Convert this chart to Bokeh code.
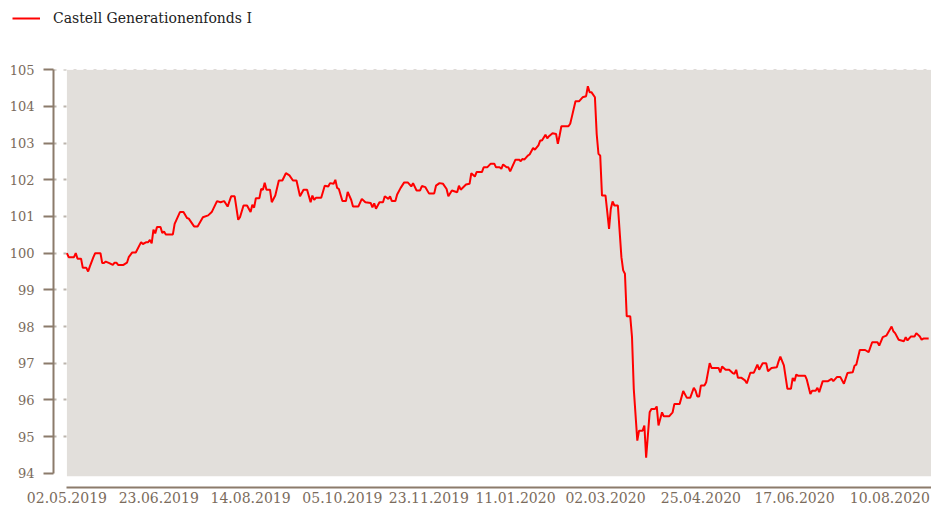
import pandas as pd
from bokeh.plotting import figure
from bokeh.layouts import column
from bokeh.models import (ColumnDataSource, Range1d, FixedTicker, DatetimeTickFormatter,
                          BoxAnnotation, Legend, LegendItem)
from bokeh.embed import file_html
from bokeh.resources import INLINE

series_name = "Castell Generationenfonds I"

dates = [
    "2019-05-02", "2019-05-03", "2019-05-06", "2019-05-07", "2019-05-08", "2019-05-10", "2019-05-11",
    "2019-05-13", "2019-05-14", "2019-05-15", "2019-05-17", "2019-05-18", "2019-05-21", "2019-05-22",
    "2019-05-23", "2019-05-24", "2019-05-26", "2019-05-28", "2019-05-29", "2019-05-30", "2019-05-31",
    "2019-06-03", "2019-06-05", "2019-06-06", "2019-06-08", "2019-06-10", "2019-06-13", "2019-06-14",
    "2019-06-16", "2019-06-17", "2019-06-18", "2019-06-19", "2019-06-20", "2019-06-21", "2019-06-22",
    "2019-06-24", "2019-06-25", "2019-06-26", "2019-06-27", "2019-07-01", "2019-07-02", "2019-07-05",
    "2019-07-07", "2019-07-09", "2019-07-10", "2019-07-13", "2019-07-15", "2019-07-18", "2019-07-21",
    "2019-07-23", "2019-07-26", "2019-07-28", "2019-07-30", "2019-08-01", "2019-08-03", "2019-08-05",
    "2019-08-07", "2019-08-08", "2019-08-10", "2019-08-12", "2019-08-14", "2019-08-15", "2019-08-16",
    "2019-08-17", "2019-08-19", "2019-08-20", "2019-08-21", "2019-08-22", "2019-08-23", "2019-08-25",
    "2019-08-26", "2019-08-28", "2019-08-30", "2019-09-01", "2019-09-03", "2019-09-05", "2019-09-07",
    "2019-09-09", "2019-09-11", "2019-09-13", "2019-09-15", "2019-09-17", "2019-09-18", "2019-09-19",
    "2019-09-20", "2019-09-23", "2019-09-25", "2019-09-27", "2019-09-28", "2019-09-30", "2019-10-01",
    "2019-10-02", "2019-10-03", "2019-10-05", "2019-10-07", "2019-10-08", "2019-10-10", "2019-10-11",
    "2019-10-14", "2019-10-16", "2019-10-18", "2019-10-21", "2019-10-22", "2019-10-23", "2019-10-24",
    "2019-10-26", "2019-10-28", "2019-10-29", "2019-10-31", "2019-11-01", "2019-11-02", "2019-11-04",
    "2019-11-05", "2019-11-07", "2019-11-09", "2019-11-11", "2019-11-13", "2019-11-14", "2019-11-16",
    "2019-11-18", "2019-11-19", "2019-11-21", "2019-11-23", "2019-11-26", "2019-11-27", "2019-11-29",
    "2019-12-01", "2019-12-03", "2019-12-04", "2019-12-06", "2019-12-09", "2019-12-10", "2019-12-11",
    "2019-12-14", "2019-12-16", "2019-12-17", "2019-12-19", "2019-12-20", "2019-12-23", "2019-12-24",
    "2019-12-26", "2019-12-28", "2019-12-30", "2019-12-31", "2020-01-02", "2020-01-03", "2020-01-04",
    "2020-01-06", "2020-01-07", "2020-01-08", "2020-01-11", "2020-01-13", "2020-01-14", "2020-01-15",
    "2020-01-16", "2020-01-18", "2020-01-19", "2020-01-21", "2020-01-22", "2020-01-24", "2020-01-25",
    "2020-01-26", "2020-01-28", "2020-01-29", "2020-01-30", "2020-02-01", "2020-02-03", "2020-02-04",
    "2020-02-05", "2020-02-06", "2020-02-10", "2020-02-11", "2020-02-12", "2020-02-13", "2020-02-14",
    "2020-02-16", "2020-02-18", "2020-02-20", "2020-02-21", "2020-02-22", "2020-02-23", "2020-02-25",
    "2020-02-26", "2020-02-27", "2020-02-28", "2020-02-29", "2020-03-02", "2020-03-03", "2020-03-04",
    "2020-03-05", "2020-03-06", "2020-03-07", "2020-03-09", "2020-03-11", "2020-03-12", "2020-03-13",
    "2020-03-14", "2020-03-16", "2020-03-17", "2020-03-18", "2020-03-20", "2020-03-21", "2020-03-23",
    "2020-03-24", "2020-03-25", "2020-03-27", "2020-03-28", "2020-03-30", "2020-03-31", "2020-04-01",
    "2020-04-03", "2020-04-04", "2020-04-07", "2020-04-09", "2020-04-10", "2020-04-13", "2020-04-15",
    "2020-04-17", "2020-04-19", "2020-04-21", "2020-04-22", "2020-04-23", "2020-04-24", "2020-04-25",
    "2020-04-27", "2020-04-28", "2020-04-30", "2020-05-01", "2020-05-05", "2020-05-06", "2020-05-07",
    "2020-05-09", "2020-05-11", "2020-05-13", "2020-05-14", "2020-05-15", "2020-05-16", "2020-05-18",
    "2020-05-20", "2020-05-21", "2020-05-23", "2020-05-25", "2020-05-27", "2020-05-28", "2020-05-30",
    "2020-06-01", "2020-06-02", "2020-06-04", "2020-06-07", "2020-06-08", "2020-06-09", "2020-06-11",
    "2020-06-13", "2020-06-15", "2020-06-16", "2020-06-17", "2020-06-18", "2020-06-19", "2020-06-23",
    "2020-06-24", "2020-06-26", "2020-06-27", "2020-06-29", "2020-06-30", "2020-07-01", "2020-07-03",
    "2020-07-06", "2020-07-08", "2020-07-09", "2020-07-11", "2020-07-13", "2020-07-15", "2020-07-17",
    "2020-07-20", "2020-07-21", "2020-07-22", "2020-07-24", "2020-07-27", "2020-07-29", "2020-07-31",
    "2020-08-03", "2020-08-04", "2020-08-06", "2020-08-08", "2020-08-11", "2020-08-12", "2020-08-13",
    "2020-08-15", "2020-08-18", "2020-08-19", "2020-08-20", "2020-08-22", "2020-08-24", "2020-08-25",
    "2020-08-27", "2020-08-28", "2020-08-29", "2020-09-01",
]

values = [
    100.00, 99.89, 99.89, 100.00, 99.85, 99.85, 99.60,
    99.60, 99.50, 99.64, 99.89, 100.00, 100.00, 99.73,
    99.73, 99.77, 99.73, 99.68, 99.74, 99.74, 99.68,
    99.68, 99.74, 99.89, 100.02, 100.02, 100.30, 100.25,
    100.30, 100.30, 100.36, 100.27, 100.64, 100.54, 100.71,
    100.71, 100.55, 100.59, 100.51, 100.51, 100.80, 101.12,
    101.12, 100.96, 100.94, 100.73, 100.73, 100.98, 101.03,
    101.12, 101.42, 101.39, 101.42, 101.27, 101.55, 101.55,
    100.91, 100.98, 101.30, 101.30, 101.12, 101.32, 101.24,
    101.50, 101.50, 101.75, 101.73, 101.92, 101.73, 101.73,
    101.39, 101.57, 101.98, 101.98, 102.18, 102.12, 101.98,
    101.98, 101.55, 101.73, 101.73, 101.39, 101.57, 101.45,
    101.51, 101.51, 101.84, 101.82, 101.91, 101.89, 102.00,
    101.78, 101.75, 101.42, 101.42, 101.67, 101.45, 101.27,
    101.27, 101.48, 101.39, 101.37, 101.25, 101.36, 101.21,
    101.39, 101.39, 101.55, 101.48, 101.55, 101.42, 101.42,
    101.60, 101.78, 101.93, 101.93, 101.82, 101.91, 101.71,
    101.71, 101.83, 101.80, 101.63, 101.63, 101.84, 101.91,
    101.89, 101.75, 101.55, 101.71, 101.66, 101.84, 101.73,
    101.87, 101.89, 102.18, 102.09, 102.21, 102.21, 102.34,
    102.34, 102.44, 102.44, 102.34, 102.34, 102.30, 102.42,
    102.34, 102.34, 102.23, 102.55, 102.55, 102.51, 102.57,
    102.55, 102.66, 102.69, 102.87, 102.82, 102.94, 103.07,
    103.07, 103.23, 103.13, 103.19, 103.27, 103.25, 102.98,
    103.21, 103.46, 103.46, 103.53, 103.73, 103.94, 104.14,
    104.14, 104.25, 104.28, 104.55, 104.39, 104.39, 104.25,
    103.25, 102.71, 102.66, 101.57, 101.57, 101.12, 100.66,
    101.21, 101.41, 101.30, 101.30, 99.89, 99.53, 99.44,
    98.28, 98.28, 97.71, 96.30, 94.89, 95.16, 95.16,
    95.30, 94.42, 95.66, 95.75, 95.75, 95.82, 95.30,
    95.66, 95.55, 95.55, 95.66, 95.89, 95.89, 96.24,
    96.06, 96.06, 96.33, 96.25, 96.09, 96.09, 96.39,
    96.39, 96.48, 97.00, 96.87, 96.87, 96.75, 96.91,
    96.82, 96.82, 96.73, 96.71, 96.82, 96.60, 96.60,
    96.53, 96.45, 96.74, 96.74, 96.96, 96.82, 97.00,
    97.00, 96.78, 96.87, 96.89, 97.05, 97.18, 96.94,
    96.30, 96.30, 96.60, 96.51, 96.69, 96.66, 96.66,
    96.55, 96.16, 96.25, 96.25, 96.33, 96.21, 96.51,
    96.51, 96.57, 96.51, 96.62, 96.62, 96.44, 96.73,
    96.75, 96.93, 96.96, 97.36, 97.36, 97.30, 97.57,
    97.57, 97.48, 97.71, 97.75, 98.00, 97.87, 97.82,
    97.64, 97.60, 97.71, 97.62, 97.73, 97.73, 97.82,
    97.73, 97.64, 97.67, 97.67,
]

x_tick_dates = ["2019-05-02", "2019-06-23", "2019-08-14", "2019-10-05", "2019-11-23",
                "2020-01-11", "2020-03-02", "2020-04-25", "2020-06-17", "2020-08-10"]
y_ticks = [94, 95, 96, 97, 98, 99, 100, 101, 102, 103, 104, 105]
grid_levels = [95, 96, 97, 98, 99, 100, 101, 102, 103, 104, 105]

AXIS = "#8b7b6b"
LABEL = "#7a6b5c"
BG = "#e2dfdb"
GRID = "#bcb5ad"
FONT = "DejaVu Serif"
LINE = "#ff0000"


def ms(d):
    return pd.Timestamp(d).value / 1e6


DAY = 86400000.0
x0 = ms(dates[0])
x_start = x0 - 7.6 * DAY
x_end = x0 + 489.6 * DAY

src = ColumnDataSource(data=dict(date=pd.to_datetime(dates), value=values))

# ---- legend strip on top (the series line is outside this strip's value range,
#      only its legend swatch shows) ----
top = figure(width=931, height=40, x_axis_type="datetime", output_backend="svg",
             toolbar_location=None, x_range=Range1d(x_start, x_end), y_range=Range1d(0, 1),
             x_axis_location=None, y_axis_location=None,
             min_border_left=0, min_border_right=0, min_border_top=0, min_border_bottom=0)
top.frame_align = False
top.outline_line_color = None
top.grid.visible = False
top.background_fill_color = "white"
top.border_fill_color = "white"
swatch = top.line("date", "value", source=src, line_color=LINE, line_width=2)
legend = Legend(items=[LegendItem(label=series_name, renderers=[swatch])],
                location=(12, 12), orientation="horizontal",
                padding=0, margin=0, spacing=0, glyph_width=28, glyph_height=16,
                label_height=20, label_standoff=13, label_text_font=FONT,
                label_text_font_size="14px", label_text_color="#222222",
                background_fill_alpha=0, border_line_alpha=0)
top.add_layout(legend, "center")

# ---- main chart ----
p = figure(width=931, height=467, x_axis_type="datetime", output_backend="svg",
           toolbar_location=None, x_range=Range1d(x_start, x_end),
           y_range=Range1d(93.61, 105.008),
           min_border_left=53, min_border_right=0, min_border_top=29, min_border_bottom=20)
p.frame_align = False
p.outline_line_color = None
p.background_fill_color = "white"
p.border_fill_color = "white"

p.add_layout(BoxAnnotation(left=x0, bottom=93.92, top=105, fill_color=BG, fill_alpha=1,
                           line_alpha=0, level="underlay"))

p.line("date", "value", source=src, line_color=LINE, line_width=2)

p.xgrid.visible = False
yg = p.ygrid[0]
yg.ticker = FixedTicker(ticks=grid_levels)
yg.grid_line_color = GRID
yg.grid_line_width = 2
yg.grid_line_dash = "3 7"
yg.bounds = (x0 + 0.5 * DAY, x_end)
yg.level = "underlay"

ya = p.yaxis[0]
ya.ticker = FixedTicker(ticks=y_ticks)
ya.bounds = (94, 105)
ya.axis_line_color = AXIS
ya.axis_line_width = 2
ya.major_tick_line_color = AXIS
ya.major_tick_line_width = 2
ya.major_tick_out = 10
ya.major_tick_in = 0
ya.minor_tick_line_color = None
ya.major_label_text_font = FONT
ya.major_label_text_font_size = "13px"
ya.major_label_text_color = LABEL
ya.major_label_standoff = 9

xa = p.xaxis[0]
xa.ticker = FixedTicker(ticks=[ms(d) for d in x_tick_dates])
fmt = "%d.%m.%Y"
xa.formatter = DatetimeTickFormatter(days=fmt, months=fmt, years=fmt, hours=fmt,
                                     hourmin=fmt, minutes=fmt, minsec=fmt, seconds=fmt,
                                     milliseconds=fmt, microseconds=fmt)
xa.bounds = (x0, x_end)
xa.axis_line_color = AXIS
xa.axis_line_width = 2
xa.major_tick_line_color = None
xa.minor_tick_line_color = None
xa.major_tick_out = 0
xa.major_tick_in = 0
xa.major_label_text_font = FONT
xa.major_label_text_font_size = "14px"
xa.major_label_text_color = LABEL
xa.major_label_standoff = 4

layout = column(top, p, spacing=0)
open("out.html", "w").write(file_html(layout, INLINE))
